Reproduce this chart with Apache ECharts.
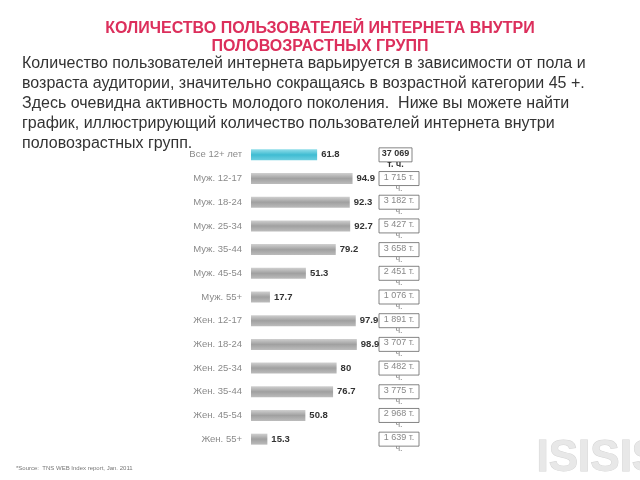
<!DOCTYPE html>
<html><head><meta charset="utf-8">
<script src="https://cdn.jsdelivr.net/npm/echarts@6/dist/echarts.min.js"></script>
<style>html,body{margin:0;padding:0;background:#fff}#c{width:640px;height:480px}</style>
</head><body><div id="c"></div>
<script>
const categories = ["Все 12+ лет","Муж. 12-17","Муж. 18-24","Муж. 25-34","Муж. 35-44","Муж. 45-54","Муж. 55+","Жен. 12-17","Жен. 18-24","Жен. 25-34","Жен. 35-44","Жен. 45-54","Жен. 55+"];
const shares = [61.8, 94.9, 92.3, 92.7, 79.2, 51.3, 17.7, 97.9, 98.9, 80, 76.7, 50.8, 15.3];
const users = ["37 069","1 715","3 182","5 427","3 658","2 451","1 076","1 891","3 707","5 482","3 775","2 968","1 639"];
const titleLines = ["КОЛИЧЕСТВО ПОЛЬЗОВАТЕЛЕЙ ИНТЕРНЕТА ВНУТРИ","ПОЛОВОЗРАСТНЫХ ГРУПП"];
const paragraph = [
 "Количество пользователей интернета варьируется в зависимости от пола и",
 "возраста аудитории, значительно сокращаясь в возрастной категории 45 +.",
 "Здесь очевидна активность молодого поколения.  Ниже вы можете найти",
 "график, иллюстрирующий количество пользователей интернета внутри",
 "половозрастных групп."
];
const sourceNote = "*Source:  TNS WEB Index report, Jan. 2011";

const grayGrad = new echarts.graphic.LinearGradient(0,0,0,1,[{offset:0,color:'#d0d0d0'},{offset:0.5,color:'#a0a0a0'},{offset:1,color:'#bcbcbc'}]);
const cyanGrad = new echarts.graphic.LinearGradient(0,0,0,1,[{offset:0,color:'#8fdde9'},{offset:0.5,color:'#3fbcd2'},{offset:1,color:'#6ccfe0'}]);

const graphic = [];
titleLines.forEach((t,i)=>graphic.push({type:'text',left:'center',top:21+i*18,style:{text:t,font:'bold 16px "Liberation Sans", Arial, sans-serif',fill:'#dc2f5c'}}));
paragraph.forEach((t,i)=>graphic.push({type:'text',left:22,top:56+i*20,style:{text:t,font:'16px "Liberation Sans", Arial, sans-serif',fill:'#333'}}));
graphic.push({type:'text',left:16,top:465,style:{text:sourceNote,font:'6px "Liberation Sans", Arial, sans-serif',fill:'#777'}});
graphic.push({type:'text',left:536,top:436,style:{text:'ISISIS',font:'bold 44px "Liberation Sans", Arial, sans-serif',fill:'#e8e8e8',stroke:'#d4d4d4',lineWidth:1}});

const chart = echarts.init(document.getElementById('c'));
chart.setOption({
  animation:false,
  graphic: graphic,
  grid:{left:251, top:143, width:107, height:308},
  xAxis:{type:'value', min:0, max:100, show:false},
  yAxis:[{
    type:'category', data:categories, inverse:true,
    axisLine:{show:false}, axisTick:{show:false},
    axisLabel:{margin:9, color:'#8a8a8a', fontSize:9.5, fontFamily:'"Liberation Sans", Arial, sans-serif'}
  },{
    type:'category', data:users, inverse:true, position:'right',
    axisLine:{show:false}, axisTick:{show:false},
    axisLabel:{
      margin:21, align:'left',
      formatter: (v, i) => i === 0 ? '{b|' + v + '}\n{b|т. ч.}' : '{a|' + v + ' т.}\n{a|ч.}',
      rich:{
        a:{width:40, align:'center', color:'#888', fontSize:9, lineHeight:11, fontFamily:'"Liberation Sans", Arial, sans-serif'},
        b:{width:33, align:'center', color:'#333', fontSize:9, fontWeight:'bold', lineHeight:11, fontFamily:'"Liberation Sans", Arial, sans-serif'}
      },
      borderColor:'#666', borderWidth:0.8, height:14, padding:[0,0,0,0]
    }
  }],
  series:[{
    type:'bar', data: shares.map((v,i)=>({value:v, itemStyle:{color: i===0 ? cyanGrad : grayGrad}})),
    barWidth:11,
    label:{show:true, position:'right', distance:4, color:'#333', fontWeight:'bold', fontSize:9.5, fontFamily:'"Liberation Sans", Arial, sans-serif'}
  }]
});
</script></body></html>
